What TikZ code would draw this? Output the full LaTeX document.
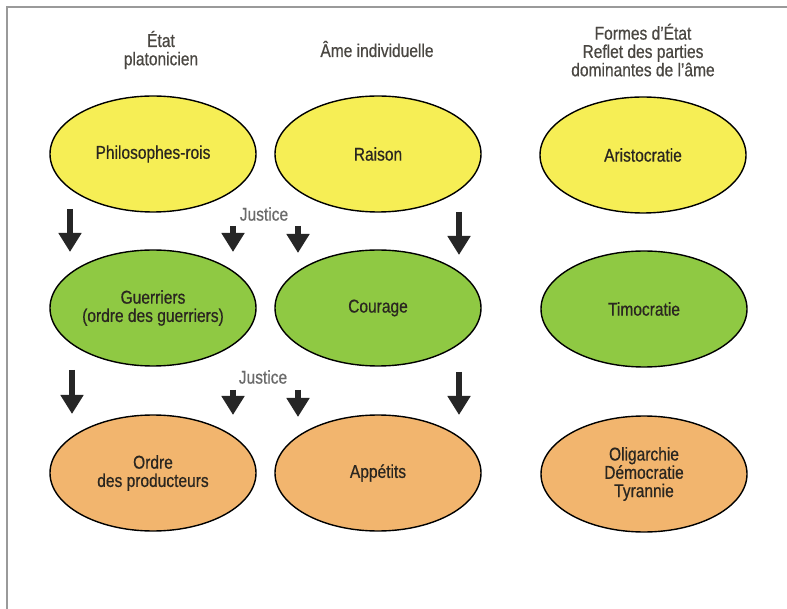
\documentclass[tikz,border=0pt]{standalone}
\usepackage{fontspec}
\setmainfont{Liberation Sans}[FakeStretch=0.84,FakeBold=0.6]
\usetikzlibrary{arrows.meta,shapes.geometric}
\definecolor{yel}{HTML}{F6EE55}
\definecolor{grn}{HTML}{8FC943}
\definecolor{org}{HTML}{F2B56E}
\definecolor{txt}{HTML}{2A2620}
\definecolor{frame}{HTML}{9A9A9A}
\definecolor{just}{HTML}{6A6A6A}
\tikzset{
  oval/.style={ellipse, draw=black, line width=1.4pt, minimum width=206pt, minimum height=116pt,
    inner sep=0pt, text=txt, font=\fontsize{18.5}{18.3}\selectfont, align=center},
  head/.style={font=\fontsize{18.5}{18.3}\selectfont, text=txt!85, align=center},
  justice/.style={font=\fontsize{18.5}{18}\selectfont, text=just},
  darrow/.style={line width=5.5pt, draw=black!85, -{Triangle[length=19pt,width=22pt]}, shorten >=0pt},
}
\begin{document}
\begin{tikzpicture}[x=1pt,y=-1pt]
\useasboundingbox (0,0) rectangle (787,609);
\fill[white] (0,0) rectangle (787,609);
% frame
\draw[frame, line width=1.6pt] (7,609) -- (7,7) -- (787,7);
% headers
\node[head] (h1) at (161,50) {État\\platonicien};
\node[head] (h2) at (377,49) {Âme individuelle};
\node[head] (h3) at (643,50) {Formes d’État\\Reflet des parties\\dominantes de l’âme};
% ovals
\node[oval, fill=yel] (p1) at (153,154) {Philosophes-rois};
\node[oval, fill=yel] (r1) at (378,154) {Raison};
\node[oval, fill=yel] (a1) at (643,155) {Aristocratie};
\node[oval, fill=grn] (g2) at (153,308) {Guerriers\\(ordre des guerriers)};
\node[oval, fill=grn] (c2) at (378,308) {Courage};
\node[oval, fill=grn] (t2) at (644,309) {Timocratie};
\node[oval, fill=org] (o3) at (153,473) {Ordre\\des producteurs};
\node[oval, fill=org] (ap3) at (378,473) {Appétits};
\node[oval, fill=org] (ol3) at (644,474) {Oligarchie\\Démocratie\\Tyrannie};
% justice labels
\node[justice] (j1) at (264,214) {Justice};
\node[justice] (j2) at (263,377) {Justice};
% arrow endpoints
\coordinate (a1s) at (70,209);  \coordinate (a1e) at (70,252);
\coordinate (a2s) at (233,226); \coordinate (a2e) at (233,252);
\coordinate (a3s) at (298,226); \coordinate (a3e) at (298,253);
\coordinate (a4s) at (459,212); \coordinate (a4e) at (459,255);
\coordinate (b1s) at (72,370);  \coordinate (b1e) at (72,414);
\coordinate (b2s) at (233,390); \coordinate (b2e) at (233,415);
\coordinate (b3s) at (298,390); \coordinate (b3e) at (298,417);
\coordinate (b4s) at (459,372); \coordinate (b4e) at (459,415);
\draw[darrow] (a1s) -- (a1e);
\draw[darrow] (a2s) -- (a2e);
\draw[darrow] (a3s) -- (a3e);
\draw[darrow] (a4s) -- (a4e);
\draw[darrow] (b1s) -- (b1e);
\draw[darrow] (b2s) -- (b2e);
\draw[darrow] (b3s) -- (b3e);
\draw[darrow] (b4s) -- (b4e);
\end{tikzpicture}
\end{document}
